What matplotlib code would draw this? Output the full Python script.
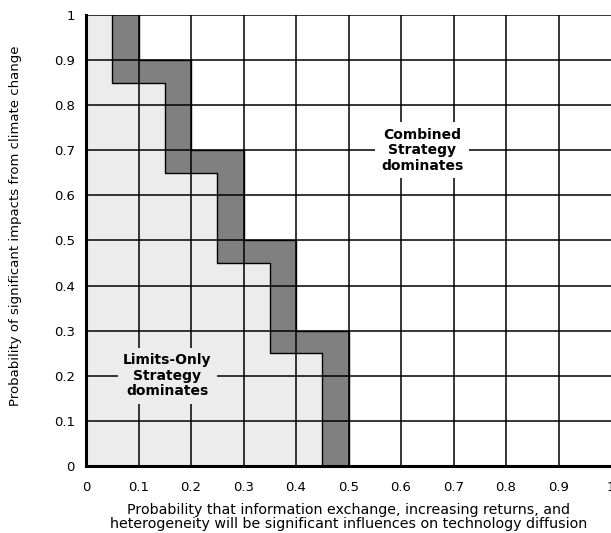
import matplotlib
matplotlib.use("Agg")
import matplotlib.pyplot as plt

plt.rcParams['font.family'] = ['DejaVu Sans']

# staircase boundaries (x, y) of the dark transition band
outer_x = [0.1, 0.1, 0.2, 0.2, 0.3, 0.3, 0.4, 0.4, 0.5, 0.5]
outer_y = [1.0, 0.9, 0.9, 0.7, 0.7, 0.5, 0.5, 0.3, 0.3, 0.0]
inner_x = [0.05, 0.05, 0.15, 0.15, 0.25, 0.25, 0.35, 0.35, 0.45, 0.45]
inner_y = [1.0, 0.85, 0.85, 0.65, 0.65, 0.45, 0.45, 0.25, 0.25, 0.0]

ticks = [0, 0.1, 0.2, 0.3, 0.4, 0.5, 0.6, 0.7, 0.8, 0.9, 1]
tick_labels = ['0', '0.1', '0.2', '0.3', '0.4', '0.5', '0.6', '0.7', '0.8', '0.9', '1']

fig = plt.figure(figsize=(6.11, 5.33), dpi=100)
ax = fig.add_axes([0.1408, 0.1257, 0.8592, 0.8462])

light = '#ececec'
dark = '#808080'

# light region: from x=0 to inner boundary
ax.fill(inner_x + [0.0, 0.0], inner_y + [0.0, 1.0], color=light, lw=0, zorder=0)
# dark band between the two staircases
ax.fill(outer_x + inner_x[::-1], outer_y + inner_y[::-1], color=dark, lw=0, zorder=0)

for t in ticks[1:-1]:
    ax.axvline(t, color='black', lw=1.1, zorder=1)
    ax.axhline(t, color='black', lw=1.1, zorder=1)
ax.axhline(1.0, color='black', lw=1.1, zorder=1)

ax.plot(outer_x, outer_y, color='black', lw=1.0, zorder=2)
ax.plot(inner_x, inner_y, color='black', lw=1.0, zorder=2)

ax.text(0.64, 0.7, 'Combined\nStrategy\ndominates', ha='center', va='center',
        fontsize=10, fontweight='bold', linespacing=1.15, zorder=3,
        bbox=dict(facecolor='white', edgecolor='none', boxstyle='square,pad=0.4'))
ax.text(0.155, 0.2, 'Limits-Only\nStrategy\ndominates', ha='center', va='center',
        fontsize=10, fontweight='bold', linespacing=1.15, zorder=3,
        bbox=dict(facecolor=light, edgecolor='none', boxstyle='square,pad=0.4'))

ax.set_xlim(0, 1)
ax.set_ylim(0, 1)
ax.set_xticks(ticks)
ax.set_xticklabels(tick_labels)
ax.set_yticks(ticks)
ax.set_yticklabels(tick_labels)
ax.tick_params(length=0, labelsize=9.5)
ax.tick_params(axis='x', pad=11)
ax.tick_params(axis='y', pad=8)

for s in ['top', 'right']:
    ax.spines[s].set_visible(False)
ax.spines['left'].set_linewidth(2.2)
ax.spines['bottom'].set_linewidth(2.2)

ax.set_xlabel('Probability that information exchange, increasing returns, and\n'
              'heterogeneity will be significant influences on technology diffusion',
              fontsize=10.3, labelpad=6, linespacing=1.0)
ax.set_ylabel('Probability of significant impacts from climate change',
              fontsize=9.5)
ax.yaxis.set_label_coords(-0.122, 0.532)

fig.savefig('out.png', dpi=100)
